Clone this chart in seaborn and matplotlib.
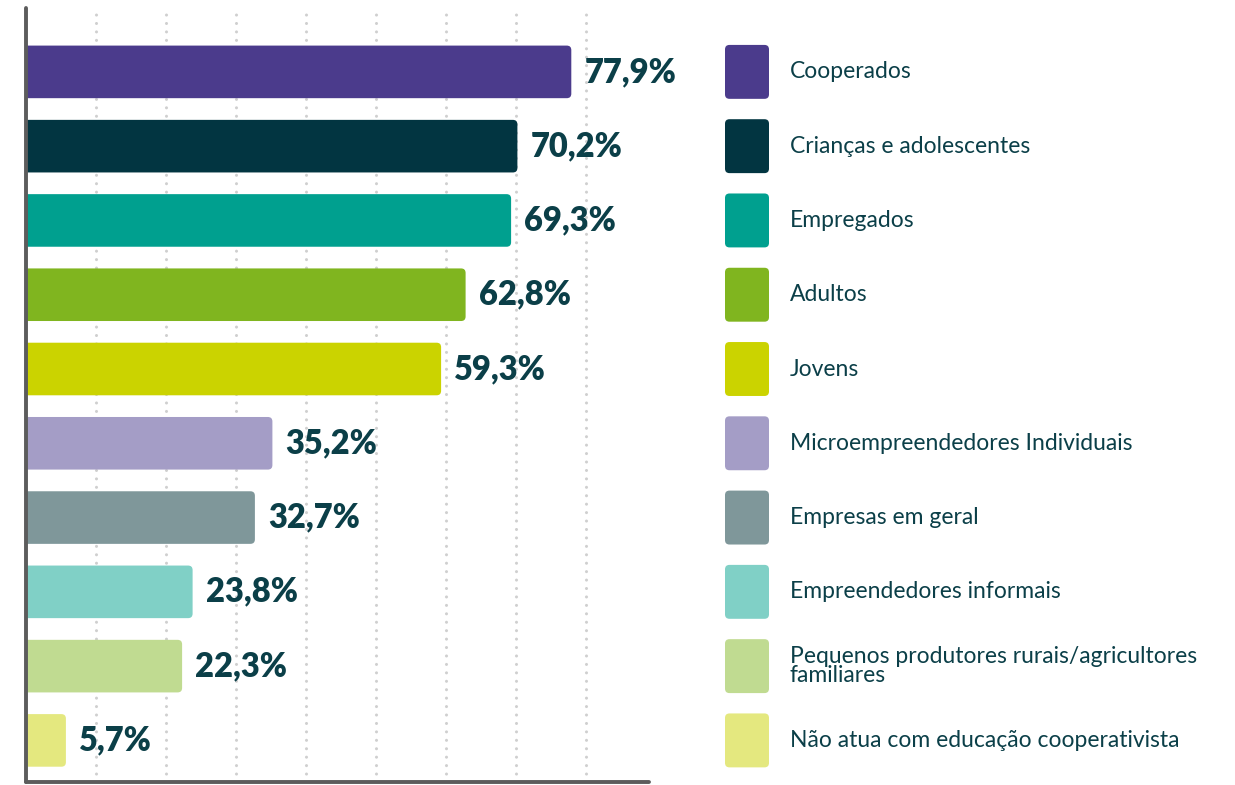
import matplotlib
matplotlib.use("Agg")
import matplotlib.pyplot as plt
from matplotlib.patches import FancyBboxPatch
import seaborn as sns
import pandas as pd

# Público atendido pelas ações de educação cooperativista
categories = [
    "Cooperados",
    "Crianças e adolescentes",
    "Empregados",
    "Adultos",
    "Jovens",
    "Microempreendedores Individuais",
    "Empresas em geral",
    "Empreendedores informais",
    "Pequenos produtores rurais/agricultores\nfamiliares",
    "Não atua com educação cooperativista",
]
values = [77.9, 70.2, 69.3, 62.8, 59.3, 35.2, 32.7, 23.8, 22.3, 5.7]
value_labels = ["77,9%", "70,2%", "69,3%", "62,8%", "59,3%",
                "35,2%", "32,7%", "23,8%", "22,3%", "5,7%"]
colors = ["#4b3b8c", "#023541", "#00a08f", "#80b51f", "#cbd300",
          "#a49dc6", "#7f979a", "#80d0c6", "#c0db91", "#e4e87f"]
grid_ticks = [10, 20, 30, 40, 50, 60, 70, 80]

TEXT = "#0b3f48"
W, H = 1235, 785

sns.set_theme(style="white")
plt.rcParams["font.family"] = ["Lato", "DejaVu Sans"]

df = pd.DataFrame({"categoria": categories, "valor": values})

fig = plt.figure(figsize=(W / 100, H / 100), dpi=100)
ax_bottom = 3 / H
ax_height = (782 - 8) / H
ax = fig.add_axes([26 / W, ax_bottom, (649 - 26) / W, ax_height])

sns.barplot(data=df, x="valor", y="categoria", hue="categoria",
            palette=colors, orient="h", width=0.708, legend=False,
            ax=ax, zorder=2)

xmax = 89.0
ylims = (9.56, -0.86)
ax.set_xlim(0, xmax)
ax.set_ylim(*ylims)

# swap the plain rectangles for rounded bars
px_x = (649 - 26) / xmax           # pixels per percent
px_y = (782 - 8) / (ylims[0] - ylims[1])  # pixels per category step
radius_px = 4.5
for patch, col in zip(list(ax.patches), colors):
    x0, y0 = patch.get_x(), patch.get_y()
    w, h = patch.get_width(), patch.get_height()
    patch.remove()
    start = -radius_px / px_x
    ax.add_patch(FancyBboxPatch(
        (start, y0), w - start, h,
        boxstyle=f"round,pad=0,rounding_size={radius_px / px_x}",
        mutation_aspect=px_x / px_y,
        facecolor=col, edgecolor="none", zorder=2, clip_on=True))

for i, (v, lab) in enumerate(zip(values, value_labels)):
    ax.text(v + 13 / px_x, i, lab, va="center", ha="left",
            fontsize=23.5, fontweight="heavy", color=TEXT, zorder=3)

# dotted vertical guides
for t in grid_ticks:
    ax.axvline(t, color="#cfcfcf", linewidth=2.2,
               linestyle=(0, (0.01, 2.75)), dash_capstyle="round",
               zorder=1)

ax.set_xticks([])
ax.set_yticks([])
ax.set_xlabel("")
ax.set_ylabel("")
for side in ["top", "right"]:
    ax.spines[side].set_visible(False)
for side in ["left", "bottom"]:
    ax.spines[side].set_color("#5c5c5c")
    ax.spines[side].set_linewidth(2.8)
    ax.spines[side].set_capstyle("round")

# legend column with rounded colour swatches
lx0 = 725
lg = fig.add_axes([lx0 / W, ax_bottom, (W - lx0) / W, ax_height])
lg.set_xlim(0, W - lx0)
lg.set_ylim(*ylims)
lg.axis("off")
sw_w, sw_h = 44, 0.726
for i, (cat, col) in enumerate(zip(categories, colors)):
    lg.add_patch(FancyBboxPatch(
        (0, i - sw_h / 2), sw_w, sw_h,
        boxstyle="round,pad=0,rounding_size=4.5",
        mutation_aspect=1 / px_y,
        facecolor=col, edgecolor="none"))
    lg.text(65, i, cat, va="center", ha="left", fontsize=16.5,
            color=TEXT, linespacing=0.92)

fig.savefig("out.png", dpi=100, facecolor="white")
